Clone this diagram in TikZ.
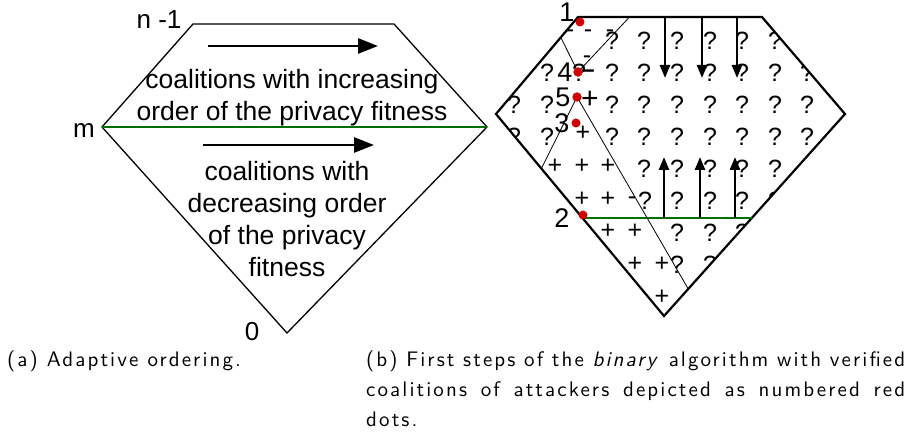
\documentclass[tikz,border=0pt]{standalone}
\usepackage{fontspec}
\usepackage{tikz}
\usetikzlibrary{calc,arrows.meta}
\newfontfamily\arialfont{Liberation Sans}
\newfontfamily\capfont{lmsans10-regular.otf}[LetterSpace=10, ItalicFont=lmsans10-oblique.otf]
\definecolor{fitgreen}{HTML}{007000}
\definecolor{dotred}{HTML}{D00000}
\tikzset{
  hull/.style={draw=black, line width=1.3pt, line join=miter},
  hullb/.style={draw=black, line width=2.2pt, line join=miter},
  split/.style={draw=fitgreen, line width=1.6pt},
  splitb/.style={draw=fitgreen, line width=2.3pt},
  dir/.style={draw=black, line width=2.7pt, -{Triangle[length=20pt,width=15pt]}},
  probe/.style={draw=black, line width=2.6pt, -{Triangle[length=13pt,width=10pt]}},
  cut/.style={draw=black, line width=0.8pt},
  att/.style={circle, fill=dotred, inner sep=0pt, minimum size=9pt},
  lab/.style={font=\arialfont\fontsize{26}{31}\selectfont, inner sep=0pt, anchor=base},
  txt/.style={font=\arialfont\fontsize{26.5}{32}\selectfont, align=center, inner sep=0pt},
  sym/.style={font=\arialfont\fontsize{25}{30}\selectfont, inner sep=0pt, anchor=base},
  captxt/.style={font=\capfont\fontsize{21}{30}\selectfont, inner sep=0pt, anchor=base west},
}

\begin{document}
\begin{tikzpicture}[x=1pt, y=-1pt]
  \useasboundingbox (0,0) rectangle (911,438);

  % (a) adaptive ordering
  \coordinate (aTL) at (193,24);
  \coordinate (aTR) at (394,24);
  \coordinate (aR) at (487,127);
  \coordinate (aB) at (287,333);
  \coordinate (aL) at (102,127);
  \draw[hull] (aTL) -- (aTR) -- (aR) -- (aB) -- (aL) -- cycle;
  \draw[split] (aL) -- (aR);
  \coordinate (up1) at (208,46); \coordinate (up2) at (378,46);
  \coordinate (dn1) at (203,145); \coordinate (dn2) at (374,145);
  \draw[dir] (up1) -- (up2);
  \draw[dir] (dn1) -- (dn2);
  \node[txt] (inc) at (292,98) {coalitions with increasing\\order of the privacy fitness};
  \node[txt] (dec) at (287,219.5) {coalitions with\\decreasing order\\of the privacy\\fitness};
  \node[lab] (ntop) at (159,29) {n -1};
  \node[lab] (nmid) at (84,138) {m};
  \node[lab] (nbot) at (252,341) {0};

  % (b) binary search
  \coordinate (bTL) at (578,17);
  \coordinate (bTR) at (762,17);
  \coordinate (bR) at (845,114);
  \coordinate (bB) at (664,316);
  \coordinate (bL) at (496,114);
  \begin{scope}
    \clip (bTL) -- (bTR) -- (bR) -- (bB) -- (bL) -- cycle;
    \foreach \y/\xs in {50/{612,644,677,710,742,775},
                        82/{547,579,612,644,677,710,742,775,807},
                        114/{514,547,612,644,677,710,742,775,807},
                        146/{514,547,612,644,677,710,742,775,807},
                        178/{644,677,710,742,775},
                        210/{645,677,710,742,775},
                        242/{677,710,742},
                        274/{677,710}}
      \foreach \x in \xs
        \node[sym] (q\x-\y) at (\x,\y) {?};
    \foreach \x/\y in {583/141, 555/174, 582/174, 608/174, 582/207, 608/207,
                       608/239, 635/239, 635/272, 662/272, 662/305}
      \node[sym] (p\x-\y) at (\x,\y) {+};
    \foreach \x/\y in {570/38, 588/38, 610/38, 587/64, 632/205}
      \node[sym] (m\x-\y) at (\x,\y) {-};
    \node[sym, font=\arialfont\bfseries\fontsize{24}{28}\selectfont] (m4) at (588,78) {–};
    \node[sym, font=\arialfont\fontsize{30}{34}\selectfont] (p5) at (590,108.5) {+};
  \end{scope}
  \draw[hullb] (bTL) -- (bTR) -- (bR) -- (bB) -- (bL) -- cycle;
  \coordinate (g1) at ($(bL)!0.515!(bB)$);
  \coordinate (g2) at ($(bR)!0.515!(bB)$);
  \draw[splitb] (g1) -- (g2);
  \foreach \x [count=\i] in {665,702,737} {
    \coordinate (s\i) at (\x,17); \coordinate (t\i) at (\x,78);
    \draw[probe] (s\i) -- (t\i);
  }
  \foreach \x [count=\i] in {664,700,735} {
    \coordinate (u\i) at (\x,218); \coordinate (v\i) at (\x,157);
    \draw[probe] (u\i) -- (v\i);
  }
  \node[att] (c1) at (580,22) {};
  \node[att] (c4) at (578,72) {};
  \node[att] (c5) at (577,97) {};
  \node[att] (c3) at (576,123) {};
  \node[att] (c2) at (583,215) {};
  \draw[cut] ($(bTL)!0.21!(bL)$) -- (c4.center) -- ($(bTL)!0.28!(bTR)$);
  \draw[cut] ($(bL)!0.27!(bB)$) -- (c5.center) -- ($(bB)!0.134!(bR)$);
  \node[att] at (c4) {};
  \node[att] at (c5) {};
  \node[lab, font=\arialfont\fontsize{27}{31}\selectfont] (k1) at (567,22) {1};
  \node[lab, font=\arialfont\fontsize{27}{31}\selectfont] (k4) at (565,82) {4};
  \node[lab, font=\arialfont\fontsize{27}{31}\selectfont] (k5) at (563,107) {5};
  \node[lab, font=\arialfont\fontsize{27}{31}\selectfont] (k3) at (562,133) {3};
  \node[lab, font=\arialfont\fontsize{27}{31}\selectfont] (k2) at (562,228) {2};

  % captions
  \node[captxt] (capa) at (7,367) {(a) Adaptive ordering.};
  \node[captxt, text width=539pt, align=justify] (capb) at (366,367)
    {(b) First steps of the \textit{binary} algorithm with verified\linebreak
     coalitions of attackers depicted as numbered red\linebreak dots.};
\end{tikzpicture}
\end{document}
